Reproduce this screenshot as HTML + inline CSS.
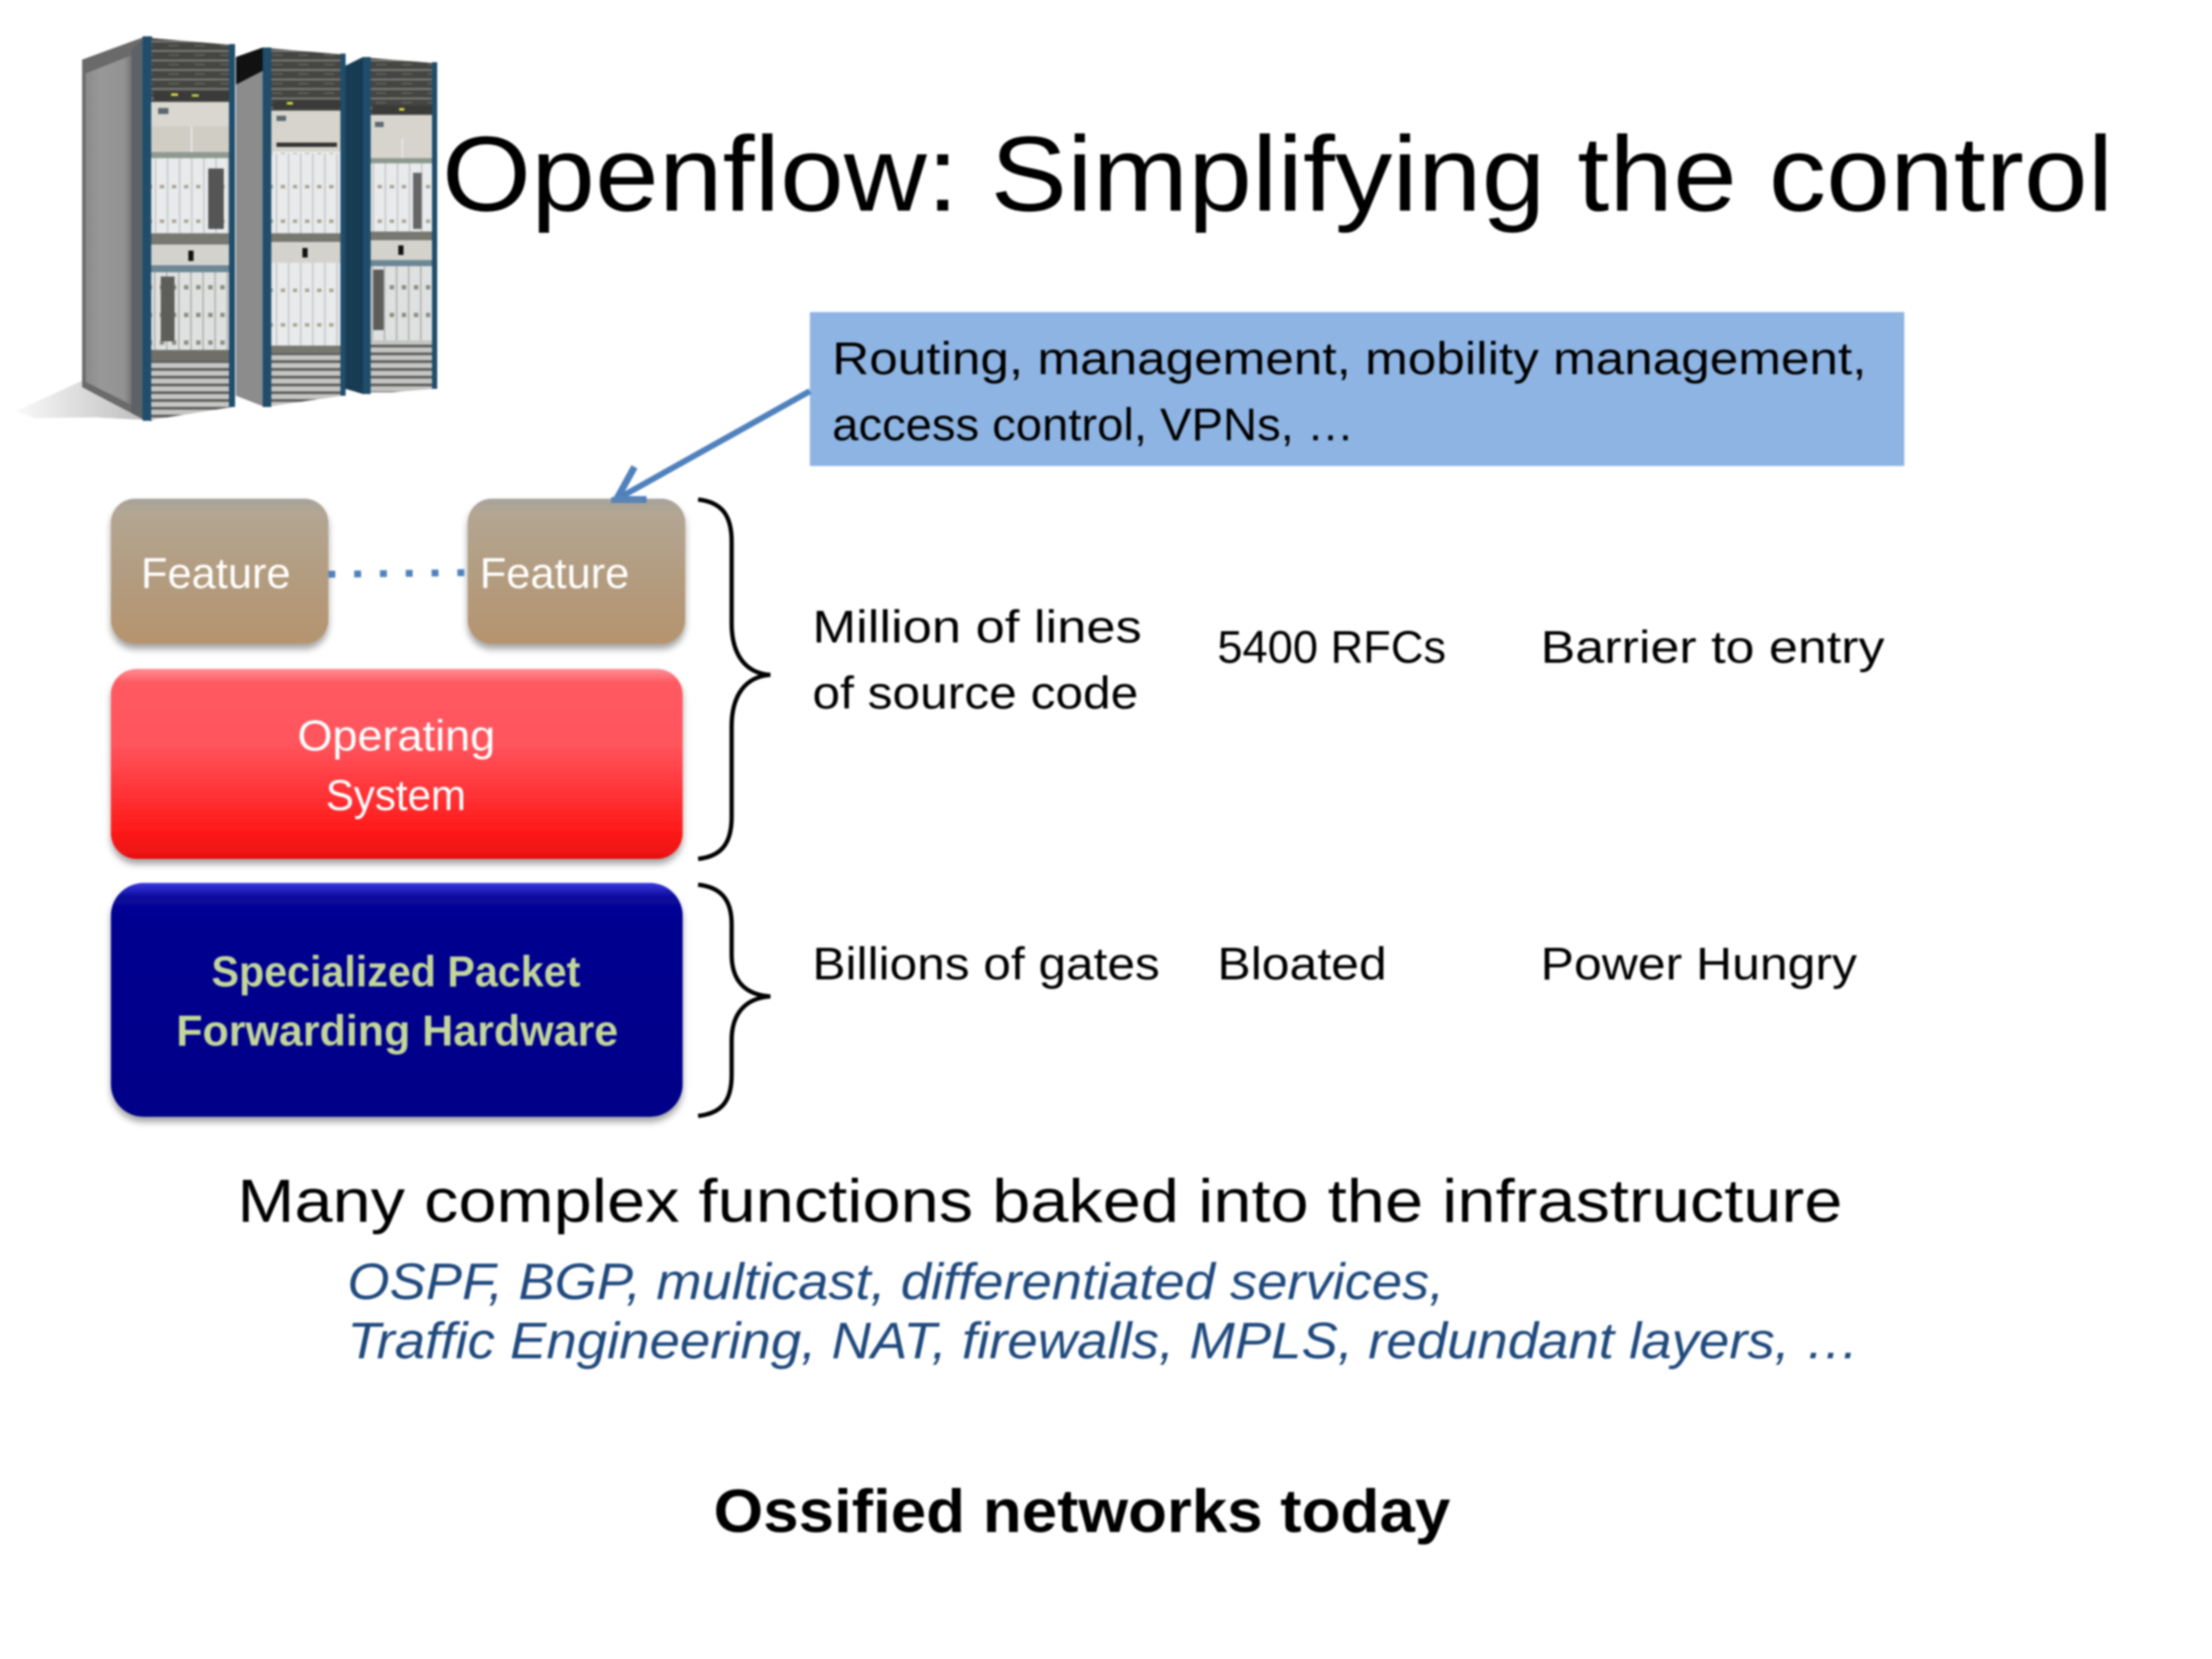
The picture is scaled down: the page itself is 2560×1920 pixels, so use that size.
<!DOCTYPE html>
<html><head><meta charset="utf-8"><style>
html,body{margin:0;padding:0;background:#fff;width:2560px;height:1920px;overflow:hidden}
svg{display:block;filter:blur(1px)}
text{font-family:"Liberation Sans",sans-serif}
</style></head><body>
<svg width="2560" height="1920" viewBox="0 0 2560 1920" xmlns="http://www.w3.org/2000/svg">
<defs>
<linearGradient id="gf" x1="0" y1="0" x2="0" y2="1"><stop offset="0" stop-color="#a6a39b"/><stop offset=".09" stop-color="#b3a693"/><stop offset=".6" stop-color="#b39b7d"/><stop offset="1" stop-color="#b6946f"/></linearGradient>
<linearGradient id="gr" x1="0" y1="0" x2="0" y2="1"><stop offset="0" stop-color="#ff8f95"/><stop offset=".07" stop-color="#ff5a62"/><stop offset=".4" stop-color="#ff545c"/><stop offset=".85" stop-color="#ff1a1a"/><stop offset="1" stop-color="#e81010"/></linearGradient>
<linearGradient id="gb" x1="0" y1="0" x2="0" y2="1"><stop offset="0" stop-color="#3a3ae0"/><stop offset=".06" stop-color="#0a0a9c"/><stop offset=".15" stop-color="#000090"/><stop offset="1" stop-color="#000088"/></linearGradient>
<linearGradient id="gs" x1="0" y1="0" x2="1" y2="0"><stop offset="0" stop-color="#8a8a8a"/><stop offset=".3" stop-color="#989898"/><stop offset=".8" stop-color="#929292"/><stop offset="1" stop-color="#6c6c6c"/></linearGradient>
<linearGradient id="gsh" x1="1" y1="0" x2="0" y2="0"><stop offset="0" stop-color="#bdbdbd"/><stop offset="1" stop-color="#fafafa"/></linearGradient>
<filter id="sh" x="-10%" y="-10%" width="120%" height="125%"><feDropShadow dx="0" dy="6" stdDeviation="4" flood-color="#000" flood-opacity=".36"/></filter>
<pattern id="vent" width="30" height="11" patternUnits="userSpaceOnUse"><rect width="30" height="11" fill="#454543"/><rect y="3" width="30" height="2" fill="#7e7e7a"/><rect x="15" y="8" width="12" height="1.5" fill="#666662"/></pattern>
<pattern id="card" width="14" height="40" patternUnits="userSpaceOnUse"><rect width="14" height="40" fill="#e8eaec"/><rect x="11" width="2" height="40" fill="#c8cacc"/><rect x="3" y="14" width="5" height="4" fill="#a9a493"/></pattern>
<pattern id="card2" width="14" height="32" patternUnits="userSpaceOnUse"><rect width="14" height="32" fill="#dfe1e0"/><rect x="10" width="2" height="32" fill="#b5b7b7"/><rect x="3" y="10" width="5" height="5" fill="#8d8c85"/></pattern>
<pattern id="grill" width="20" height="9" patternUnits="userSpaceOnUse"><rect width="20" height="9" fill="#c4c4c2"/><rect y="3" width="20" height="3" fill="#5a5a5a"/></pattern>
<clipPath id="c1"><polygon points="175,44 269,52 269,471 175,486"/></clipPath>
<clipPath id="c2"><polygon points="314,56 396,63 396,458 314,470"/></clipPath>
<clipPath id="c3"><polygon points="429,67 502,73 502,450 429,456"/></clipPath>
</defs>

<!-- racks -->
<polygon points="18,476 94,441 169,486 110,483 40,484" fill="url(#gsh)"/>
<polygon points="95,69 169,42 169,487 95,448" fill="#6a6a6a"/>
<polygon points="99,85 152,64 154,440 155,470 99,442" fill="url(#gs)"/>
<polygon points="152,58 167,44 167,486 152,478" fill="#5c6266"/>
<rect x="165" y="42" width="11" height="445" fill="#1f4d6b"/>
<g clip-path="url(#c1)">
<rect x="175" y="40" width="96" height="78" fill="url(#vent)"/>
<rect x="178" y="106" width="88" height="10" fill="#3a3a38"/><rect x="198" y="108" width="8" height="3" fill="#d8d83c"/><rect x="222" y="109" width="8" height="3" fill="#b8c84a"/>
<rect x="175" y="118" width="96" height="28" fill="#d9d7cf"/><rect x="183" y="125" width="12" height="7" fill="#5b6a70"/>
<rect x="175" y="146" width="96" height="30" fill="#d0cdc5"/><rect x="221" y="146" width="1.5" height="30" fill="#eee"/>
<rect x="175" y="176" width="96" height="7" fill="#8e9a8f"/>
<rect x="175" y="183" width="96" height="90" fill="url(#card)"/><rect x="241" y="195" width="18" height="70" fill="#555"/>
<rect x="175" y="270" width="96" height="13" fill="#77786f"/>
<rect x="175" y="283" width="96" height="24" fill="#d4d2cc"/><rect x="218" y="290" width="6" height="12" fill="#111"/>
<rect x="175" y="307" width="96" height="8" fill="#6c8795"/>
<rect x="175" y="315" width="96" height="90" fill="url(#card2)"/><rect x="186" y="320" width="16" height="75" fill="#5d5d5a"/>
<rect x="175" y="405" width="96" height="13" fill="#6f6f68"/>
<rect x="175" y="418" width="96" height="70" fill="url(#grill)"/>
</g>
<rect x="265" y="51" width="7" height="420" fill="#1f4d6b"/>

<polygon points="273,78 304,55 304,470 273,458" fill="#8c8c8c"/>
<polygon points="273,66 304,55 304,82 273,98" fill="#111"/>
<rect x="304" y="55" width="10" height="416" fill="#1f4d6b"/>
<g clip-path="url(#c2)">
<rect x="314" y="55" width="84" height="73" fill="url(#vent)"/>
<rect x="316" y="116" width="78" height="10" fill="#3a3a38"/><rect x="332" y="118" width="7" height="3" fill="#d8d83c"/>
<rect x="314" y="128" width="84" height="48" fill="#d6d4cc"/><rect x="320" y="134" width="11" height="6" fill="#5b6a70"/><rect x="320" y="165" width="70" height="5" fill="#333"/>
<rect x="314" y="177" width="84" height="104" fill="url(#card)"/>
<rect x="314" y="270" width="84" height="10" fill="#77786f"/>
<rect x="314" y="280" width="84" height="24" fill="#d4d2cc"/><rect x="350" y="287" width="6" height="11" fill="#111"/>
<rect x="314" y="304" width="84" height="102" fill="url(#card)"/>
<rect x="314" y="400" width="84" height="9" fill="#77786f"/>
<rect x="314" y="409" width="84" height="62" fill="url(#grill)"/>
</g>
<rect x="394" y="62" width="6" height="396" fill="#1f4d6b"/>

<polygon points="400,76 420,66 420,456 400,450" fill="#173b52"/>
<rect x="420" y="66" width="9" height="390" fill="#1f4d6b"/>
<g clip-path="url(#c3)">
<rect x="429" y="66" width="74" height="67" fill="url(#vent)"/>
<rect x="431" y="122" width="70" height="9" fill="#3a3a38"/><rect x="462" y="125" width="6" height="3" fill="#d8d83c"/>
<rect x="429" y="133" width="74" height="50" fill="#d6d4cc"/><rect x="434" y="141" width="10" height="6" fill="#5b6a70"/><rect x="465" y="160" width="1.5" height="23" fill="#eee"/>
<rect x="429" y="183" width="74" height="6" fill="#8e9a8f"/>
<rect x="429" y="189" width="74" height="82" fill="url(#card)"/><rect x="478" y="200" width="10" height="65" fill="#666"/>
<rect x="429" y="268" width="74" height="10" fill="#77786f"/>
<rect x="429" y="278" width="74" height="23" fill="#d4d2cc"/><rect x="461" y="284" width="6" height="11" fill="#111"/>
<rect x="429" y="301" width="74" height="7" fill="#6c8795"/>
<rect x="429" y="308" width="74" height="86" fill="url(#card2)"/><rect x="432" y="312" width="12" height="70" fill="#5d5d5a"/>
<rect x="429" y="394" width="74" height="60" fill="url(#grill)"/>
</g>
<rect x="500" y="72" width="6" height="378" fill="#1f4d6b"/>

<g transform="scale(.995)">
<!-- title -->
<text x="514" y="245" font-size="124" textLength="1944" lengthAdjust="spacingAndGlyphs" fill="#000">Openflow: Simplifying the control</text>

<!-- callout -->
<rect x="942" y="363" width="1273" height="179" fill="#8eb4e3"/>
<text x="968" y="435" font-size="53" textLength="1203" lengthAdjust="spacingAndGlyphs" fill="#000">Routing, management, mobility management,</text>
<text x="968" y="512" font-size="53" textLength="607" lengthAdjust="spacingAndGlyphs" fill="#000">access control, VPNs, …</text>

<!-- boxes -->
<rect x="129" y="580" width="253" height="169" rx="28" fill="url(#gf)" filter="url(#sh)"/>
<rect x="544" y="580" width="253" height="169" rx="28" fill="url(#gf)" filter="url(#sh)"/>
<rect x="129" y="778" width="665" height="221" rx="30" fill="url(#gr)" filter="url(#sh)"/>
<rect x="129" y="1027" width="665" height="272" rx="38" fill="url(#gb)" filter="url(#sh)"/>

<!-- dotted link -->
<line x1="382" y1="668" x2="545" y2="666" stroke="#4f81bd" stroke-width="8" stroke-dasharray="8 22"/>

<!-- arrow -->
<line x1="942" y1="455" x2="722" y2="578" stroke="#4f81bd" stroke-width="7"/>
<polyline points="738,543 717,581 752,581" fill="none" stroke="#4f81bd" stroke-width="8"/>
<rect x="711" y="578" width="36" height="7" fill="#5a84b4"/>

<!-- box text -->
<text x="164" y="684" font-size="50" textLength="174" lengthAdjust="spacingAndGlyphs" fill="#fff">Feature</text>
<text x="558" y="684" font-size="50" textLength="174" lengthAdjust="spacingAndGlyphs" fill="#fff">Feature</text>
<text x="346" y="873" font-size="50" textLength="230" lengthAdjust="spacingAndGlyphs" fill="#fff">Operating</text>
<text x="379" y="942" font-size="50" textLength="163" lengthAdjust="spacingAndGlyphs" fill="#fff">System</text>
<text x="246" y="1147" font-size="50" font-weight="bold" textLength="429" lengthAdjust="spacingAndGlyphs" fill="#c3d69b">Specialized Packet</text>
<text x="205" y="1216" font-size="50" font-weight="bold" textLength="514" lengthAdjust="spacingAndGlyphs" fill="#c3d69b">Forwarding Hardware</text>

<!-- braces -->
<path d="M812,581 C840,584 851,600 851,630 L851,725 C851,760 866,783 896,785 C866,787 851,810 851,845 L851,950 C851,980 840,996 812,999" fill="none" stroke="#000" stroke-width="5"/>
<path d="M812,1029 C840,1032 851,1048 851,1075 L851,1110 C851,1140 866,1157 896,1159 C866,1161 851,1180 851,1210 L851,1250 C851,1280 840,1295 812,1298" fill="none" stroke="#000" stroke-width="5"/>

<!-- right text -->
<text x="945" y="747" font-size="53" textLength="383" lengthAdjust="spacingAndGlyphs">Million of lines</text>
<text x="945" y="824" font-size="53" textLength="379" lengthAdjust="spacingAndGlyphs">of source code</text>
<text x="1416" y="771" font-size="53" textLength="266" lengthAdjust="spacingAndGlyphs">5400 RFCs</text>
<text x="1792" y="771" font-size="53" textLength="400" lengthAdjust="spacingAndGlyphs">Barrier to entry</text>
<text x="945" y="1139" font-size="53" textLength="404" lengthAdjust="spacingAndGlyphs">Billions of gates</text>
<text x="1416" y="1139" font-size="53" textLength="197" lengthAdjust="spacingAndGlyphs">Bloated</text>
<text x="1792" y="1139" font-size="53" textLength="368" lengthAdjust="spacingAndGlyphs">Power Hungry</text>

<!-- bottom text -->
<text x="276" y="1421" font-size="71" textLength="1867" lengthAdjust="spacingAndGlyphs">Many complex functions baked into the infrastructure</text>
<text x="404" y="1511" font-size="60" font-style="italic" textLength="1276" lengthAdjust="spacingAndGlyphs" fill="#1f497d">OSPF, BGP, multicast, differentiated services,</text>
<text x="404" y="1580" font-size="60" font-style="italic" textLength="1759" lengthAdjust="spacingAndGlyphs" fill="#1f497d">Traffic Engineering, NAT, firewalls, MPLS, redundant layers, …</text>
<text x="830" y="1782" font-size="71" font-weight="bold" textLength="857" lengthAdjust="spacingAndGlyphs">Ossified networks today</text>
</g>
</svg>
</body></html>
